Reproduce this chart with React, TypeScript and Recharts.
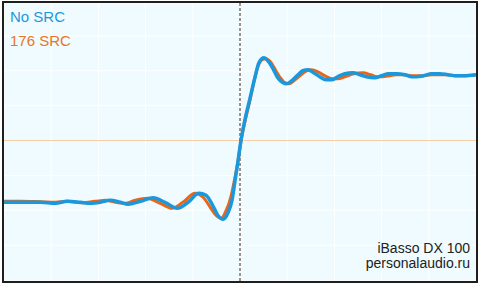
import React from "react";
import { LineChart, Line, XAxis, YAxis, CartesianGrid, ReferenceLine } from "recharts";

// step response, time in µs (10 per division), level in mV
const noSrcTime = [
  -50, -46.5, -42.3, -39.1, -36.6, -33.8, -31.7, -29.6, -27.5, -25.4, -23.7, -21.1, -18.4, -15.9,
  -13.3, -11.0, -8.7, -7.2, -5.9, -4.7, -3.6, -2.5, -1.7, -1.1, -0.4, 0.2, 1.1, 2.1, 3.2, 4.0, 5.1,
  5.9, 7.0, 8.0, 9.1, 9.9, 11.0, 12.3, 13.3, 14.4, 15.6, 16.9, 18.2, 19.5, 20.7, 22.2, 23.9, 25.4,
  26.8, 28.5, 30.0, 31.5, 33.2, 34.9, 36.4, 37.4, 38.9, 40.6, 42.3, 44.0, 45.7, 47.4, 50,
];
const noSrcLevel = [
  -62, -62, -62, -63, -61, -62, -63, -62, -60, -62, -64, -61, -57.5, -62, -68, -62, -53, -55, -64,
  -75, -79, -72, -60, -42, -20, 0, 22, 42, 64, 78, 83, 80, 72, 63, 58, 57, 60, 66, 70, 71, 68, 64,
  61, 61, 64, 67, 68, 66, 64, 63, 65, 67, 67, 66, 64, 64, 65, 67, 67, 66, 65, 65, 66,
];

const src176Time = [
  -50, -46.5, -42.3, -39.1, -36.6, -33.8, -30.7, -28.5, -26.4, -24.3, -22.2, -19.7, -16.9, -14.4,
  -12.1, -9.5, -7.8, -6.3, -5.1, -4.0, -3.0, -1.9, -1.1, -0.4, 0.2, 1.1, 2.1, 3.0, 3.8, 4.7, 5.5,
  6.6, 7.6, 8.7, 9.5, 10.4, 11.4, 12.7, 14.1, 15.2, 16.5, 18.0, 19.5, 20.7, 22.2, 24.1, 26.0, 27.7,
  29.0, 30.2, 31.7, 33.0, 34.5, 36.4, 38.5, 40.6, 42.3, 44.0, 45.7, 47.4, 50,
];
const src176Level = [
  -61, -61, -61.5, -62, -61, -62.5, -61, -60, -62, -63, -60, -58, -63, -68, -62, -53, -57, -67, -75,
  -78, -71, -56, -38, -20, -1, 20, 40, 60, 74, 81, 82, 78, 70, 62, 58, 57, 60, 65, 70, 71, 69, 65,
  62, 62, 64, 67, 68, 66, 64, 64, 65, 66, 66, 65, 65, 66, 66, 66, 65, 65, 66,
];

const timeTicks = [-50, -40, -30, -20, -10, 0, 10, 20, 30, 40, 50];
const levelTicks = [-140, -105, -70, -35, 0, 35, 70, 105];

const noSrcData = noSrcTime.map((t, i) => ({ t, v: noSrcLevel[i] }));
const src176Data = src176Time.map((t, i) => ({ t, v: src176Level[i] }));

const font = '"Liberation Sans", Arial, sans-serif';

export default function App() {
  return (
    <div style={{ position: "relative", width: 480, height: 284, background: "#fff", fontFamily: font }}>
      <style>{"body{margin:0}"}</style>
      <LineChart width={480} height={284} margin={{ top: 3, right: 4, bottom: 3, left: 4 }}>
        <CartesianGrid fill="#effbfe" stroke="#ffffff" strokeWidth={1} />
        <XAxis type="number" dataKey="t" domain={[-50, 50]} ticks={timeTicks} hide />
        <YAxis type="number" dataKey="v" domain={[-141, 138]} ticks={levelTicks} hide />
        <ReferenceLine y={0} stroke="#f6cfa6" strokeWidth={1} />
        <ReferenceLine x={0} stroke="#9a928a" strokeWidth={2} strokeDasharray="3 2" />
        <Line
          data={src176Data}
          dataKey="v"
          type="monotone"
          stroke="#e8661a"
          strokeWidth={3}
          dot={false}
          isAnimationActive={false}
        />
        <Line
          data={noSrcData}
          dataKey="v"
          type="monotone"
          stroke="#1b98dc"
          strokeWidth={3.5}
          dot={false}
          isAnimationActive={false}
        />
      </LineChart>
      <div
        style={{
          position: "absolute",
          left: 2,
          top: 1,
          width: 476,
          height: 282,
          border: "2px solid #1e1e1e",
          boxSizing: "border-box",
          pointerEvents: "none",
        }}
      />
      <div style={{ position: "absolute", left: 10, top: 9, fontSize: 15, lineHeight: 1, color: "#1b98dc" }}>No SRC</div>
      <div style={{ position: "absolute", left: 10, top: 33, fontSize: 15, lineHeight: 1, color: "#e87526" }}>176 SRC</div>
      <div
        style={{
          position: "absolute",
          right: 10,
          top: 241,
          fontSize: 14,
          lineHeight: "15px",
          color: "#222",
          textAlign: "right",
        }}
      >
        iBasso DX 100
        <br />
        personalaudio.ru
      </div>
    </div>
  );
}
